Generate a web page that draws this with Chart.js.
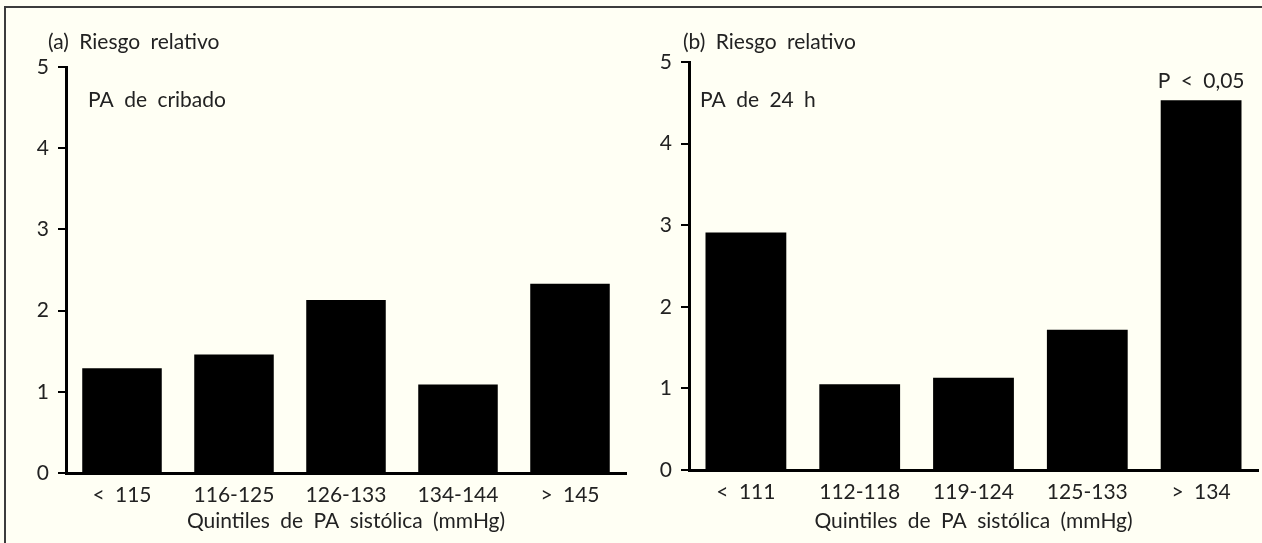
<!DOCTYPE html>
<html lang="es">
<head>
<meta charset="utf-8">
<title>Riesgo relativo por quintiles de PA sistólica</title>
<script src="https://cdn.jsdelivr.net/npm/chart.js@4.4.1/dist/chart.umd.min.js"></script>
<style>
  html, body { margin: 0; padding: 0; background: #fffff4; }
  body { width: 1262px; height: 543px; position: relative; overflow: hidden; }
  .marco { position: absolute; left: 4px; top: 6px; right: 0; bottom: 0;
           border-top: 2px solid #3c3c3c; border-left: 2px solid #3c3c3c; }
  canvas { position: absolute; top: 0; }
  #panelA { left: 0; }
  #panelB { left: 631px; }
</style>
</head>
<body>
<div class="marco"></div>
<canvas id="panelA" width="631" height="543"></canvas>
<canvas id="panelB" width="631" height="543"></canvas>
<script>
// ==================== DATOS ====================
const categoriasA = ['< 115', '116-125', '126-133', '134-144', '> 145'];
const riesgoA = [1.29, 1.46, 2.13, 1.09, 2.33];

const categoriasB = ['< 111', '112-118', '119-124', '125-133', '> 134'];
const riesgoB = [2.91, 1.05, 1.13, 1.72, 4.53];

const ticksY = [0, 1, 2, 3, 4, 5];
const tituloX = 'Quintiles de PA sistólica (mmHg)';

// ==================== ESTILO ====================
const fuente = 'Lato, "Open Sans", sans-serif';
const tamano = 21;
const colorTexto = '#222';
const espacioPalabras = '5px';   // el original tiene espacios anchos

/**
 * Espaciado entre palabras (el contexto se reinicia al redimensionar)
 */
const espaciado = {
    id: 'espaciado',
    beforeLayout(chart) { chart.ctx.wordSpacing = espacioPalabras; },
    beforeDraw(chart) { chart.ctx.wordSpacing = espacioPalabras; }
};

/**
 * Textos sueltos del panel: título, subtítulo y nota sobre la barra
 */
const textosPanel = {
    id: 'textosPanel',
    afterDraw(chart, args, opts) {
        const ctx = chart.ctx;
        const area = chart.chartArea;
        ctx.save();
        ctx.wordSpacing = espacioPalabras;
        ctx.fillStyle = colorTexto;
        ctx.font = tamano + 'px ' + fuente;
        ctx.textBaseline = 'middle';
        ctx.textAlign = 'left';
        ctx.fillText(opts.titulo, area.left + opts.dxTitulo, 42);
        ctx.fillText(opts.subtitulo, area.left + opts.dxSub, 100);
        if (opts.nota) {
            const meta = chart.getDatasetMeta(0);
            const barra = meta.data[opts.nota.indice];
            ctx.textAlign = 'center';
            ctx.fillText(opts.nota.texto, barra.x, barra.y - 19);
        }
        ctx.restore();
    }
};

function crearPanel(canvasId, categorias, valores, conf) {
    const ctx = document.getElementById(canvasId).getContext('2d');
    return new Chart(ctx, {
        type: 'bar',
        data: {
            labels: categorias,
            datasets: [{
                data: valores,
                backgroundColor: '#000',
                borderWidth: 0,
                categoryPercentage: 1,
                barPercentage: 0.71
            }]
        },
        options: {
            responsive: false,
            animation: false,
            layout: {
                padding: { top: conf.arriba, right: conf.derecha, bottom: 0, left: 0 }
            },
            plugins: {
                legend: { display: false },
                tooltip: { enabled: false },
                textosPanel: conf.textos
            },
            scales: {
                x: {
                    grid: { display: false },
                    border: { display: true, color: '#000', width: 3 },
                    ticks: {
                        color: colorTexto,
                        font: { family: fuente, size: tamano },
                        padding: 2
                    },
                    title: {
                        display: true,
                        text: tituloX,
                        color: colorTexto,
                        font: { family: fuente, size: tamano },
                        padding: { top: 0, bottom: 9 }
                    },
                    afterFit(scale) { scale.height = 543 - conf.abajo; }
                },
                y: {
                    min: 0,
                    max: 5,
                    afterBuildTicks(scale) {
                        scale.ticks = ticksY.map(v => ({ value: v }));
                    },
                    grid: {
                        drawOnChartArea: false,
                        drawTicks: true,
                        tickLength: 8,
                        color: '#000',
                        lineWidth: 2
                    },
                    border: { display: true, color: '#000', width: 3 },
                    ticks: {
                        color: colorTexto,
                        font: { family: fuente, size: tamano },
                        padding: 9
                    },
                    afterFit(scale) { scale.width = conf.ejeY; }
                }
            }
        },
        plugins: [espaciado, textosPanel]
    });
}

crearPanel('panelA', categoriasA, riesgoA, {
    ejeY: 66, arriba: 67, abajo: 473, derecha: 5,
    textos: { titulo: '(a) Riesgo relativo', dxTitulo: -18,
              subtitulo: 'PA de cribado', dxSub: 22 }
});

crearPanel('panelB', categoriasB, riesgoB, {
    ejeY: 58, arriba: 62, abajo: 470, derecha: 4,
    textos: { titulo: '(b) Riesgo relativo', dxTitulo: -6,
              subtitulo: 'PA de 24 h', dxSub: 11,
              nota: { indice: 4, texto: 'P < 0,05' } }
});
</script>
</body>
</html>
